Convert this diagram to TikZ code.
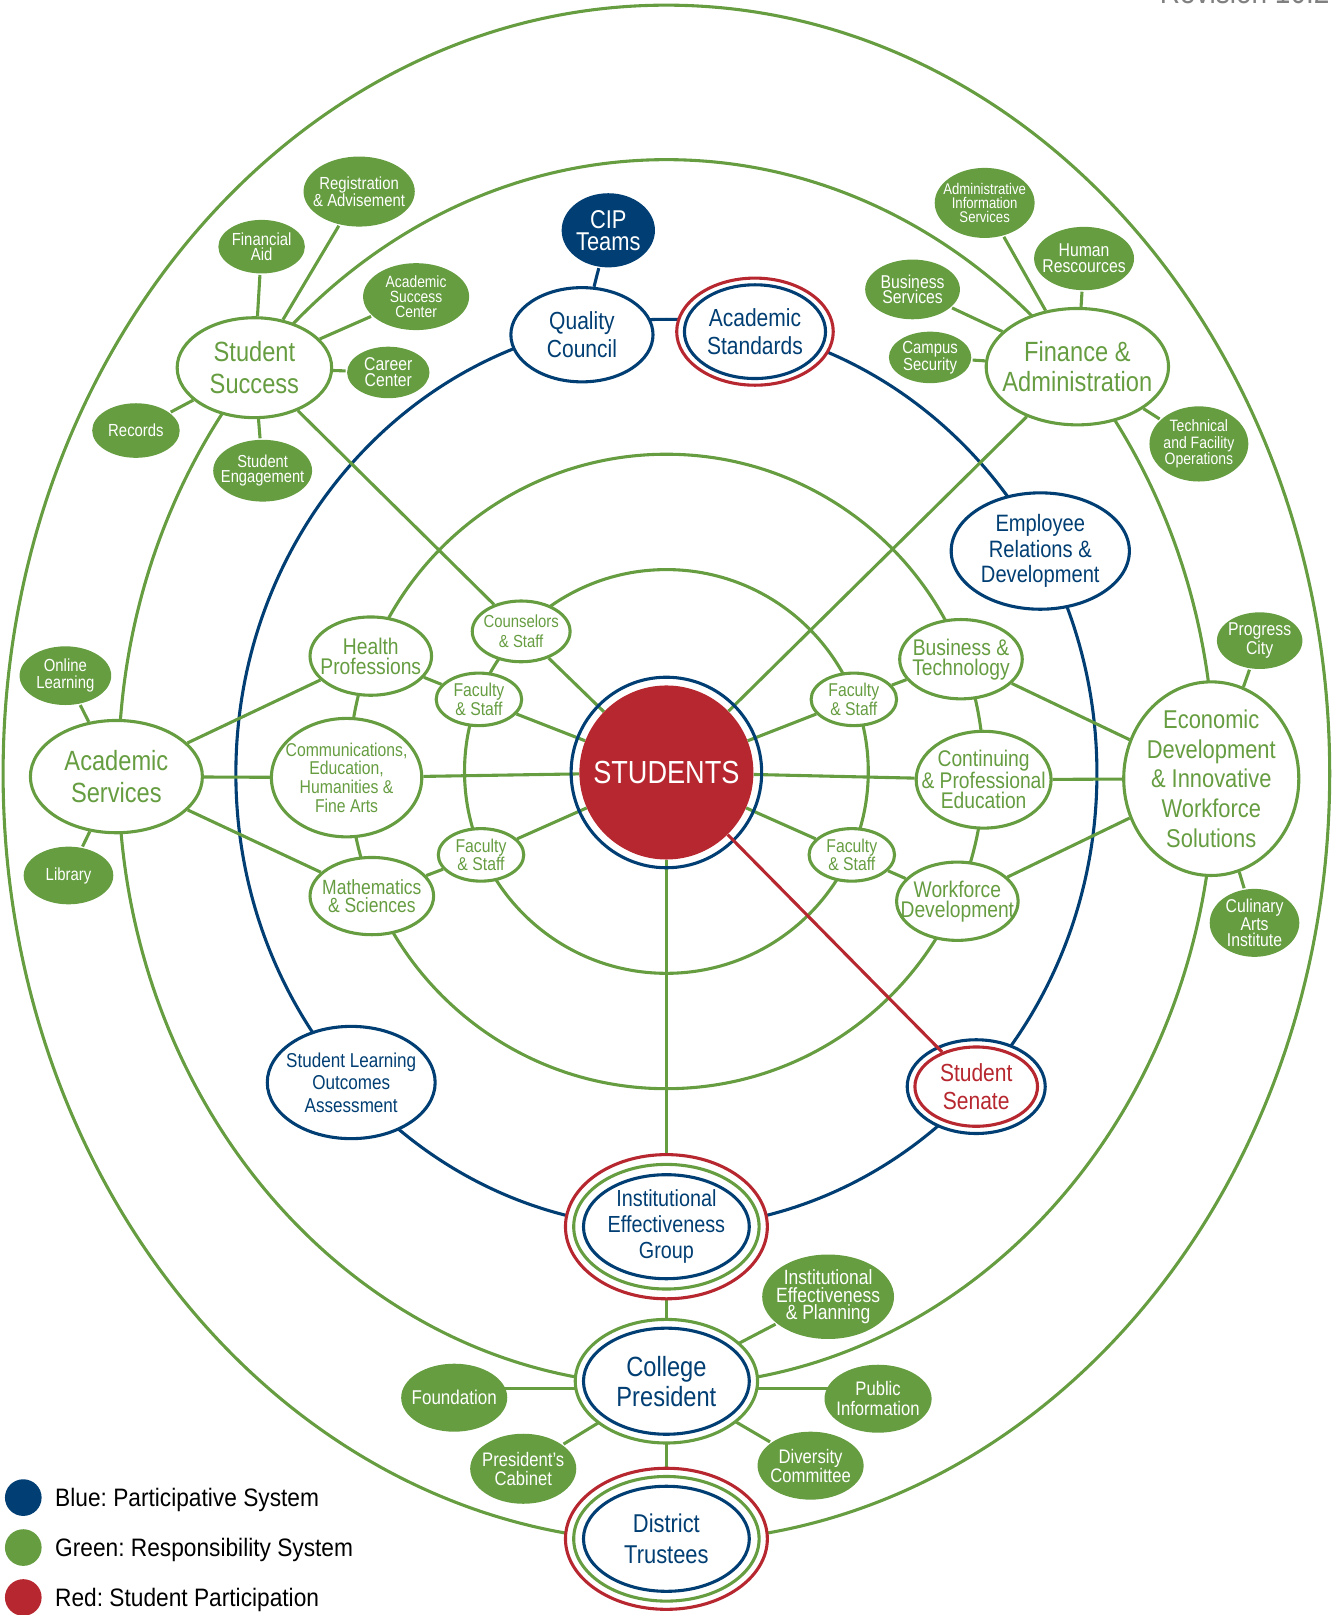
\documentclass[tikz,border=0pt]{standalone}
\usepackage{fontspec}
\setmainfont{Liberation Sans}[FakeStretch=0.85]
\newfontfamily\legfont{Liberation Sans}[FakeStretch=0.9]
\usetikzlibrary{shapes.geometric}
\definecolor{cG}{RGB}{102,157,65}
\definecolor{cB}{RGB}{0,62,115}
\definecolor{cR}{RGB}{183,39,47}
\pgfdeclarelayer{bg}\pgfsetlayers{bg,main}
\newcommand\myfz[2]{\fontsize{#1}{#2}\selectfont}
\frenchspacing
\begin{document}
\begin{tikzpicture}[x=1pt,y=-1pt,
  base/.style={ellipse, inner sep=-30pt, align=center, line width=3pt},
  wn/.style={base, draw=cG, fill=white, text=cG},
  gn/.style={base, fill=cG, text=white},
  bn/.style={base, draw=cB, fill=white, text=cB},
  rn/.style={base, draw=cR, fill=white, text=cR},
  gring/.style={base, draw=cG, fill=white},
  rring/.style={base, draw=cR, fill=white},
  bring/.style={base, draw=cB, fill=white},
  sz/.style 2 args={minimum width=#1pt, minimum height=#2pt},
  gl/.style={draw=cG, line width=3pt},
  bl/.style={draw=cB, line width=3pt},
  rl/.style={draw=cR, line width=3pt},
  legdot/.style={circle, inner sep=0pt, minimum size=35.6pt},
  legtxt/.style={anchor=base west, inner sep=0pt, font=\legfont\myfz{24.5}{28}}
]
\useasboundingbox (0,0) rectangle (1294,1568);

% ---------- revision ----------
\node[anchor=base east, inner sep=0pt, text=black!50, font=\myfz{32}{36}] (rev) at (1291,3) {Revision 10.2};

% ---------- Student Success cluster ----------
\node[wn, sz={150}{97}, font=\myfz{27}{31}] (ss) at (247,357) {Student\\Success};
\node[gn, sz={108}{68}, font=\myfz{17}{15.2}] (ra) at (348.7,186) {Registration\\\& Advisement};
\node[gn, sz={84}{52}, font=\myfz{17}{15.2}] (fin) at (254,239.5) {Financial\\Aid};
\node[gn, sz={103}{65}, font=\myfz{15.8}{14.6}] (asc) at (404,288) {Academic\\Success\\Center};
\node[gn, sz={80}{50}, font=\myfz{18}{15.2}] (cc) at (377,361.6) {Career\\Center};
\node[gn, sz={96}{60}, font=\myfz{16.8}{14.6}] (se) at (255,457) {Student\\Engagement};
\node[gn, sz={85}{53}, font=\myfz{17}{19}] (rec) at (132,418) {Records};

% ---------- Finance cluster ----------
\node[wn, sz={177}{113}, font=\myfz{27}{29}] (fa) at (1046,356) {Finance \&\\Administration};
\node[gn, sz={97}{68}, font=\myfz{15}{13.9}] (ais) at (956,197) {Administrative\\Information\\Services};
\node[gn, sz={97}{61.5}, font=\myfz{18}{15.2}] (hr) at (1052.5,251) {Human\\Rescources};
\node[gn, sz={92}{58}, font=\myfz{18}{15.2}] (bs) at (886,281) {Business\\Services};
\node[gn, sz={80}{50}, font=\myfz{17}{14.6}] (csec) at (903,347) {Campus\\Security};
\node[gn, sz={96}{73}, font=\myfz{16}{16.2}] (tfo) at (1164,431) {Technical\\and Facility\\Operations};

% ---------- Academic Services cluster ----------
\node[wn, sz={167}{109}, font=\myfz{27}{31}] (as) at (113,754) {Academic\\Services};
\node[gn, sz={89}{57}, font=\myfz{17}{16}] (ol) at (63.5,656) {Online\\Learning};
\node[gn, sz={87}{56}, font=\myfz{17}{19}] (lib) at (66.5,850) {Library};

% ---------- Economic Development cluster ----------
\node[wn, sz={170}{188}, font=\myfz{25}{29}] (ed) at (1176,756) {Economic\\Development\\\& Innovative\\Workforce\\Solutions};
\node[gn, sz={83}{55}, font=\myfz{18}{17.8}] (pc) at (1223,622) {Progress\\City};
\node[gn, sz={87}{66}, font=\myfz{18}{15.5}] (cai) at (1218,896) {Culinary\\Arts\\Institute};

% ---------- inner ring nodes ----------
\node[wn, sz={118}{76}, font=\myfz{22}{19.5}] (hp) at (360,637) {Health\\Professions};
\node[wn, sz={146}{115}, font=\myfz{18}{18}] (ce) at (336.5,755) {Communications,\\Education,\\Humanities \&\\Fine Arts};
\node[wn, sz={120}{75}, font=\myfz{20}{18}] (ms) at (361,870) {Mathematics\\\& Sciences};
\node[wn, sz={95}{59}, font=\myfz{17}{19}] (cs) at (506,613) {Counselors\\\& Staff};
\node[wn, sz={83}{51}, font=\myfz{18}{18}] (f1) at (465,679) {Faculty\\\& Staff};
\node[wn, sz={83}{51}, font=\myfz{18}{18}] (f2) at (467,830) {Faculty\\\& Staff};
\node[wn, sz={83}{51}, font=\myfz{18}{18}] (f3) at (829,679) {Faculty\\\& Staff};
\node[wn, sz={83}{51}, font=\myfz{18}{18}] (f4) at (827,830) {Faculty\\\& Staff};
\node[wn, sz={119}{77}, font=\myfz{22}{19.5}] (bt) at (933,640) {Business \&\\Technology};
\node[wn, sz={131}{94}, font=\myfz{22}{19.5}] (cpe) at (955,757) {Continuing\\\& Professional\\Education};
\node[wn, sz={118}{76}, font=\myfz{22}{19.5}] (wd) at (929.5,875) {Workforce\\Development};

% ---------- participative (blue) nodes ----------
\node[base, fill=cB, text=white, sz={90.6}{72}, font=\myfz{25}{21.5}] (cip) at (590.6,223.6) {CIP\\Teams};
\node[bn, sz={138}{91.5}, font=\myfz{24}{26.5}] (qc) at (565,325) {Quality\\Council};
\node[rring, sz={152}{104}] (asdR) at (733,322) {};
\node[bn, sz={137}{91}, font=\myfz{24}{26.5}] (asd) at (733,322) {Academic\\Standards};
\node[bn, sz={173}{113}, font=\myfz{23}{25}] (erd) at (1010,535) {Employee\\Relations \&\\Development};
\node[bring, sz={134}{91}] (senB) at (947.8,1055) {};
\node[rn, sz={119}{77}, font=\myfz{24}{26.5}] (sen) at (947.8,1055) {Student\\Senate};
\node[bn, sz={163}{109}, font=\myfz{19.5}{22}] (slo) at (341,1051) {Student Learning\\Outcomes\\Assessment};

% ---------- bottom spine ----------
\node[rring, sz={196}{140}] (iegR) at (647,1191) {};
\node[gring, sz={180}{121}] (iegG) at (647,1191) {};
\node[bn, sz={161}{101}, font=\myfz{22.6}{25}] (ieg) at (647,1191) {Institutional\\Effectiveness\\Group};
\node[gring, sz={177}{120}] (cpG) at (647,1341) {};
\node[bn, sz={161}{103}, font=\myfz{27}{29}] (cp) at (647,1341) {College\\President};
\node[rring, sz={196}{137}] (dtR) at (647,1494) {};
\node[gring, sz={180}{121}] (dtG) at (647,1494) {};
\node[bn, sz={161}{102}, font=\myfz{25}{30.7}] (dt) at (647,1494) {District\\Trustees};

\node[gn, sz={128}{82}, font=\myfz{20}{17.3}] (iep) at (804,1259) {Institutional\\Effectiveness\\\& Planning};
\node[gn, sz={103}{66}, font=\myfz{19.4}{20}] (fnd) at (441,1357) {Foundation};
\node[gn, sz={104}{66}, font=\myfz{19}{19}] (pi) at (852.5,1358) {Public\\Information};
\node[gn, sz={103}{68}, font=\myfz{19}{18.4}] (pcab) at (508,1426) {President’s\\Cabinet};
\node[gn, sz={103}{66}, font=\myfz{19}{18.4}] (dc) at (787,1423) {Diversity\\Committee};

% ---------- STUDENTS ----------
\node[circle, draw=cB, line width=3pt, minimum size=185pt, inner sep=0pt] (ring) at (647,750) {};
\node[circle, fill=cR, minimum size=169pt, inner sep=0pt, text=white, font=\myfz{31}{36}] (stu) at (647,750) {STUDENTS};

% ---------- legend ----------
\node[legdot, fill=cB] (lb) at (22.6,1454) {};
\node[legdot, fill=cG] (lg) at (22.6,1502.5) {};
\node[legdot, fill=cR] (lr) at (22.6,1551) {};
\node[legtxt] (lbt) at (53.4,1462.6) {Blue: Participative System};
\node[legtxt] (lgt) at (53.4,1511) {Green: Responsibility System};
\node[legtxt] (lrt) at (53.4,1559.6) {Red: Student Participation};

% ---------- background rings and connectors ----------
\begin{pgfonlayer}{bg}
\draw[gl] (647,751) ellipse [x radius=644, y radius=746];
\draw[gl] (647,750) ellipse [x radius=532, y radius=595];
\draw[gl] (647,749) circle [radius=308];
\draw[gl] (647,749) circle [radius=196];
\draw[bl] (647,751) ellipse [x radius=418, y radius=441];

\draw[gl] (ss)--(ra) (ss)--(fin) (ss)--(asc) (ss)--(cc) (ss)--(se) (ss)--(rec)
  (ss)--(cs) (cs)--(stu);
\draw[gl] (fa)--(ais) (fa)--(hr) (fa)--(bs) (fa)--(csec) (fa)--(tfo) (fa)--(stu);
\draw[gl] (as)--(ol) (as)--(lib) (as)--(hp) (as)--(ce) (as)--(ms);
\draw[gl] (hp)--(f1) (f1)--(stu) (ce)--(stu) (ms)--(f2) (f2)--(stu);
\draw[gl] (bt)--(f3) (f3)--(stu) (cpe)--(stu) (wd)--(f4) (f4)--(stu);
\draw[gl] (ed)--(bt) (ed)--(cpe) (ed)--(wd) (ed)--(pc) (ed)--(cai);
\draw[gl] (stu)--(ieg) (ieg)--(cp) (cp)--(dt);
\draw[gl] (cp)--(iep) (cp)--(pcab) (cp)--(dc);
\draw[gl] ([yshift=9pt]fnd.center)--([yshift=-7pt]cp.center);
\draw[gl] ([yshift=-7pt]cp.center)--([yshift=10pt]pi.center);
\draw[bl] (cip)--(qc);
\end{pgfonlayer}

\draw[rl] (stu)--(sen);
\end{tikzpicture}
\end{document}
